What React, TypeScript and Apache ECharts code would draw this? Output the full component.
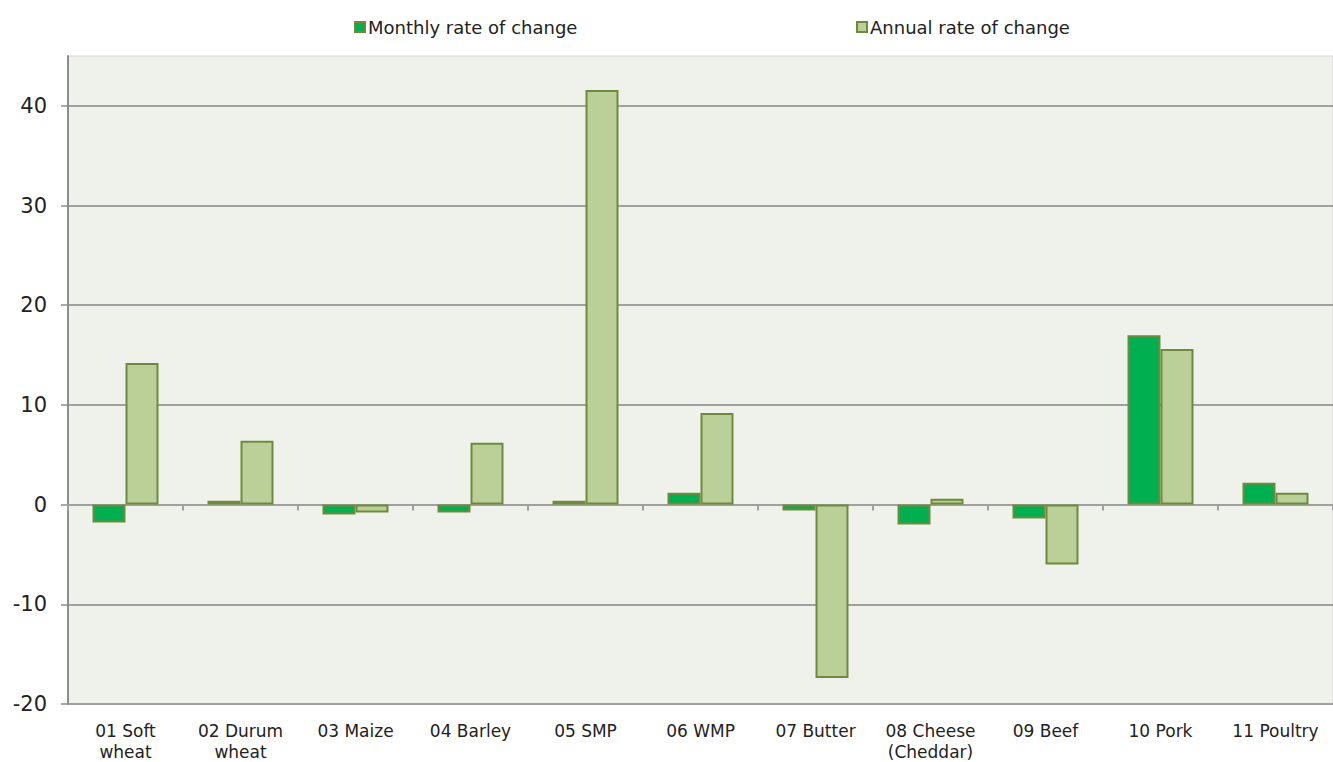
import React, { useEffect, useRef } from "react";
import * as echarts from "echarts";

const categories = [
  "01 Soft\nwheat",
  "02 Durum\nwheat",
  "03 Maize",
  "04 Barley",
  "05 SMP",
  "06 WMP",
  "07 Butter",
  "08 Cheese\n(Cheddar)",
  "09 Beef",
  "10 Pork",
  "11 Poultry",
];
const monthly = [-1.8, 0.4, -1.0, -0.8, 0.4, 1.2, -0.6, -2.0, -1.4, 17.0, 2.2];
const annual = [14.2, 6.4, -0.8, 6.2, 41.6, 9.2, -17.4, 0.6, -6.0, 15.6, 1.2];
const seriesNames = ["Monthly rate of change", "Annual rate of change"];

const FONT = "DejaVu Sans";

export default function App() {
  const ref = useRef<HTMLDivElement>(null);
  useEffect(() => {
    if (!ref.current) return;
    const chart = echarts.init(ref.current, null, { renderer: "svg" });
    chart.setOption({
      animation: false,
      backgroundColor: "#ffffff",
      legend: [
        {
          data: [seriesNames[0]],
          icon: "rect",
          left: 349,
          top: 13,
          itemWidth: 10,
          itemHeight: 10,
          textStyle: { fontFamily: FONT, fontSize: 18, color: "#222", padding: [0, 0, 0, -2] },
        },
        {
          data: [seriesNames[1]],
          icon: "rect",
          left: 851,
          top: 13,
          itemWidth: 10,
          itemHeight: 10,
          textStyle: { fontFamily: FONT, fontSize: 18, color: "#222", padding: [0, 0, 0, -2] },
        },
      ],
      grid: {
        left: 68,
        right: 0,
        top: 56,
        bottom: 58,
        show: true,
        backgroundColor: "#EFF2EA",
        borderColor: "#D8D8D8",
        borderWidth: 1,
      },
      xAxis: [
        {
          type: "category",
          data: categories,
          position: "bottom",
          axisLine: { show: false, onZero: false },
          axisTick: { show: false },
          axisLabel: {
            fontFamily: FONT,
            fontSize: 17,
            color: "#222",
            margin: 16,
            lineHeight: 21,
            interval: 0,
          },
        },
        {
          type: "category",
          data: categories,
          position: "bottom",
          axisLine: { show: true, onZero: true, lineStyle: { color: "#A0A0A0", width: 2 } },
          axisTick: { show: true, length: 6, lineStyle: { color: "#A0A0A0", width: 2 } },
          axisLabel: { show: false },
        },
      ],
      yAxis: {
        type: "value",
        min: -20,
        max: 45,
        interval: 10,
        axisLine: { show: true, lineStyle: { color: "#8C8C8C", width: 2 } },
        axisTick: { show: true, length: 7, lineStyle: { color: "#8C8C8C", width: 1.5 } },
        axisLabel: {
          fontFamily: FONT,
          fontSize: 21,
          color: "#222",
          margin: 21,
          showMaxLabel: false,
          formatter: (v: number) => (v === 45 ? "" : String(v)),
        },
        splitLine: {
          show: true,
          showMaxLine: false,
          lineStyle: { color: "#A0A0A0", width: 2 },
        },
      },
      series: [
        {
          name: seriesNames[0],
          type: "bar",
          data: monthly,
          barWidth: 33,
          barGap: "0%",
          itemStyle: { color: "#00B050", borderColor: "#6E8B3D", borderWidth: 2 },
        },
        {
          name: seriesNames[1],
          type: "bar",
          data: annual,
          barWidth: 33,
          barGap: "0%",
          itemStyle: { color: "#BBD098", borderColor: "#6E8B3D", borderWidth: 2 },
        },
      ],
    });
    return () => chart.dispose();
  }, []);
  return (
    <div
      ref={ref}
      style={{ position: "fixed", left: 0, top: 0, width: 1333, height: 762 }}
    />
  );
}
